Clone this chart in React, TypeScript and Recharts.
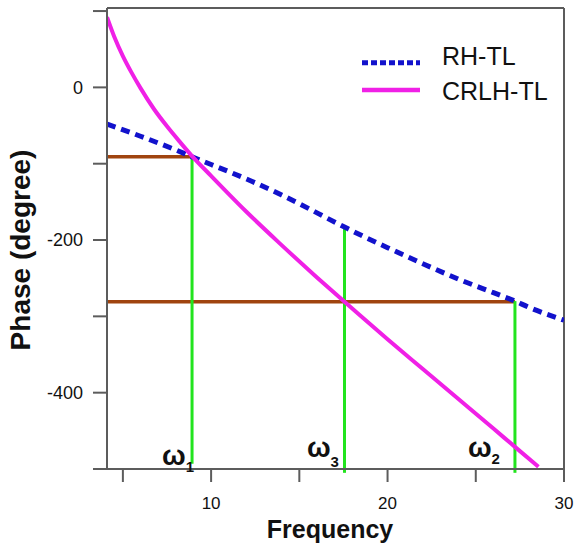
import React from 'react';
import { LineChart, Line, XAxis, YAxis, ReferenceLine, ReferenceDot } from 'recharts';

// ---- data ----
const rhFreq = [4.1, 6, 8, 8.92, 10, 12.3, 14, 17.56, 18.7, 20, 22, 24.1, 26, 27.22, 28, 30];
const rhPhase = [-48, -64, -82, -91, -101, -123, -141, -183, -196, -210, -231, -252, -269, -280, -288, -305];

const crlhFreq = [4.1, 4.5, 5, 5.5, 6, 6.75, 7.5, 8.25, 8.92, 10, 12, 13.92, 16, 17.56, 18.45, 20, 22, 24, 26, 27.22, 28.55];
const crlhPhase = [92, 67, 41, 19, -1, -28, -51, -72, -90, -116, -163, -205, -249, -281, -299, -330, -369, -408, -447, -471, -497];

const omegaFreq = [8.92, 17.56, 27.22];
const omegaSub = ['1', '3', '2'];
const omegaTop = [-91, -183, -280];
const omegaBottom = [-493, -505, -505];

const brownStart = 4.1;
const brownLevel = [-91, -281];
const brownEnd = [8.92, 27.22];

const xTicks = [5, 10, 15, 20, 25, 30];
const xLabeled = [10, 20, 30];
const yTicks = [-500, -400, -300, -200, -100, 0, 100];
const yLabeled = [0, -200, -400];

const seriesNames = ['RH-TL', 'CRLH-TL'];

// ---- layout / style ----
const FONT = '"Liberation Sans", Arial, Helvetica, sans-serif';
const AXIS = '#5c5c5c';
const BLUE = '#1212cc';
const MAGENTA = '#f020e6';
const BROWN = '#a0440f';
const GREEN = '#22e41e';
const omegaLayout = [
  { dx: -30, dy: -4, sub: 7 },
  { dx: -37.6, dy: -12, sub: 10 },
  { dx: -47, dy: -12, sub: 7 },
];

export default function App() {
  const rhData = rhFreq.map((f, i) => ({ f, phase: rhPhase[i] }));
  const crlhData = crlhFreq.map((f, i) => ({ f, phase: crlhPhase[i] }));

  return (
    <div style={{ position: 'absolute', left: 0, top: 0, width: 575, height: 546, background: '#fff' }}>
      <LineChart width={575} height={546} margin={{ top: 8, right: 11, bottom: 0, left: 0 }}>
        <XAxis
          type="number"
          dataKey="f"
          domain={[4.1, 30]}
          allowDataOverflow
          ticks={xTicks}
          interval={0}
          tickFormatter={(v: number) => (xLabeled.includes(v) ? String(v) : '')}
          height={77}
          tickSize={13}
          tickMargin={15}
          stroke={AXIS}
          strokeWidth={2}
          tick={{ fill: '#111', fontSize: 17, fontFamily: FONT }}
          label={{
            value: 'Frequency',
            content: (p: any) => {
              const vb = p.viewBox || {};
              return (
                <text
                  x={vb.x + vb.width / 2 - 5.5}
                  y={vb.y + 69}
                  textAnchor="middle"
                  fontFamily={FONT}
                  fontWeight="bold"
                  fontSize={25}
                  fill="#111"
                >
                  Frequency
                </text>
              );
            },
          }}
        />
        <YAxis
          type="number"
          domain={[-500, 104]}
          allowDataOverflow
          ticks={yTicks}
          interval={0}
          tickFormatter={(v: number) => (yLabeled.includes(v) ? String(v) : '')}
          width={107}
          tickSize={14}
          tickMargin={10}
          stroke={AXIS}
          strokeWidth={2}
          tick={{ fill: '#111', fontSize: 18, fontFamily: FONT }}
          label={{
            value: 'Phase (degree)',
            content: (p: any) => {
              const vb = p.viewBox || {};
              const cy = vb.y + vb.height / 2 + 11.5;
              return (
                <text
                  x={30}
                  y={cy}
                  transform={`rotate(-90, 30, ${cy})`}
                  textAnchor="middle"
                  fontFamily={FONT}
                  fontWeight="bold"
                  fontSize={28}
                  fill="#111"
                >
                  Phase (degree)
                </text>
              );
            },
          }}
        />
        <ReferenceLine y={104} stroke={AXIS} strokeWidth={2} />
        <ReferenceLine x={30} stroke={AXIS} strokeWidth={2} />
        {brownLevel.map((lv, i) => (
          <ReferenceLine
            key={'b' + i}
            segment={[{ x: brownStart, y: lv }, { x: brownEnd[i], y: lv }]}
            stroke={BROWN}
            strokeWidth={3.5}
            ifOverflow="visible"
          />
        ))}
        {omegaFreq.map((w, i) => (
          <ReferenceLine
            key={'g' + i}
            segment={[{ x: w, y: omegaTop[i] }, { x: w, y: omegaBottom[i] }]}
            stroke={GREEN}
            strokeWidth={3}
            ifOverflow="visible"
          />
        ))}
        <Line
          data={rhData}
          dataKey="phase"
          name={seriesNames[0]}
          type="monotone"
          stroke={BLUE}
          strokeWidth={5}
          strokeDasharray="9 6"
          dot={false}
          activeDot={false}
          isAnimationActive={false}
        />
        <Line
          data={crlhData}
          dataKey="phase"
          name={seriesNames[1]}
          type="monotone"
          stroke={MAGENTA}
          strokeWidth={4}
          dot={false}
          activeDot={false}
          isAnimationActive={false}
        />
        {omegaFreq.map((w, i) => (
          <ReferenceDot
            key={'o' + i}
            x={w}
            y={-500}
            r={0}
            fill="none"
            stroke="none"
            ifOverflow="visible"
            label={(p: any) => {
              const vb = p.viewBox || {};
              const lay = omegaLayout[i];
              return (
                <text
                  x={vb.x + lay.dx}
                  y={vb.y + lay.dy}
                  fontFamily={FONT}
                  fontWeight="bold"
                  fontSize={28}
                  fill="#111"
                >
                  ω
                  <tspan fontSize={15} dy={lay.sub}>
                    {omegaSub[i]}
                  </tspan>
                </text>
              );
            }}
          />
        ))}
      </LineChart>
      <svg
        width={575}
        height={546}
        style={{ position: 'absolute', left: 0, top: 0, pointerEvents: 'none' }}
      >
        <line x1={362} y1={62.7} x2={420} y2={62.7} stroke={BLUE} strokeWidth={5} strokeDasharray="6 3" />
        <text x={442} y={65} fontFamily={FONT} fontSize={25} fill="#111">
          {seriesNames[0]}
        </text>
        <line x1={362} y1={90} x2={420} y2={90} stroke={MAGENTA} strokeWidth={4.5} />
        <text x={442} y={100} fontFamily={FONT} fontSize={25} fill="#111">
          {seriesNames[1]}
        </text>
      </svg>
    </div>
  );
}
